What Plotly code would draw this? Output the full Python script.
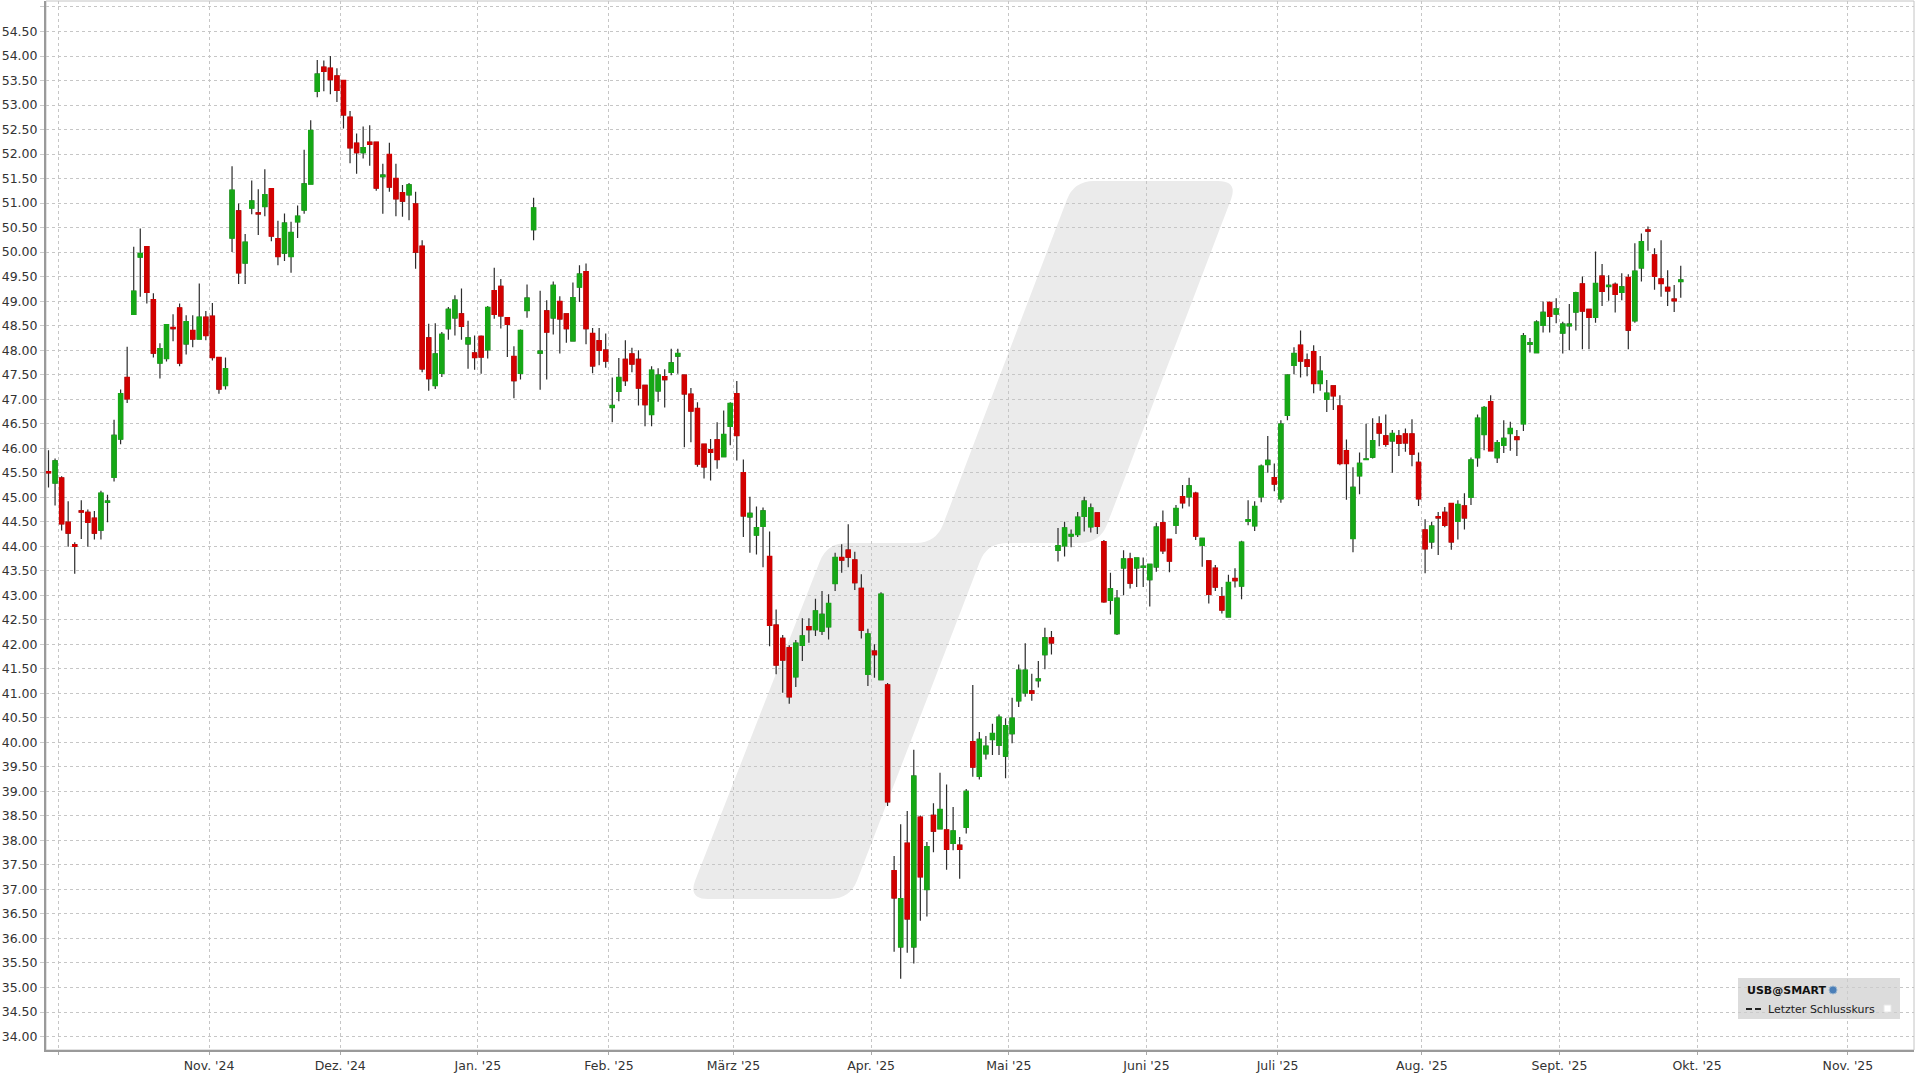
import math
import pandas as pd
import plotly.graph_objects as go

# ---------------- data ----------------
HOLIDAYS = ["2024-11-28", "2024-12-25", "2025-01-01", "2025-01-09", "2025-01-20",
            "2025-02-17", "2025-04-18", "2025-05-26", "2025-06-19", "2025-07-04",
            "2025-09-01", "2025-11-27"]
FIRST_DAY = "2024-09-27"
LAST_DAY = "2025-09-26"

OPEN = [45.52,45.29,45.39,44.49,44.03,44.72,44.69,44.57,44.33,44.90,
        45.41,46.19,47.44,48.73,49.90,50.11,49.03,47.74,47.83,48.46,
        48.86,48.13,48.40,48.23,48.67,48.69,47.85,47.28,50.29,50.84,
        49.78,50.90,50.80,50.93,51.29,50.27,49.98,49.91,50.62,50.86,
        51.39,53.28,53.77,53.75,53.59,53.50,52.75,52.22,52.03,52.24,
        52.24,51.54,51.99,51.50,51.21,51.17,50.98,50.12,48.25,47.28,
        47.53,48.44,48.66,48.74,48.13,47.94,48.28,48.01,49.21,49.30,
        48.66,47.87,47.53,48.81,50.46,47.94,48.80,48.66,48.99,48.74,
        48.19,49.29,49.60,48.34,48.19,48.00,46.83,47.16,47.81,47.92,
        47.81,47.28,46.69,47.17,47.46,47.55,47.88,47.49,47.10,46.81,
        46.08,45.97,46.17,45.83,46.45,47.11,45.50,44.60,44.23,44.41,
        43.79,42.39,42.12,41.93,41.34,41.98,42.36,42.30,42.27,42.36,
        43.24,43.77,43.92,43.72,43.14,41.39,41.86,41.28,41.17,37.38,
        35.83,37.94,35.83,38.47,37.00,38.51,38.24,38.21,37.94,37.90,
        38.27,40.01,39.31,39.77,40.06,39.94,39.72,40.18,40.85,41.01,
        41.05,41.26,41.79,42.13,43.92,44.01,44.21,44.24,44.61,44.40,
        44.68,44.09,42.90,42.22,43.56,43.74,43.56,43.57,43.32,43.58,
        44.48,44.14,44.43,45.01,45.01,45.08,44.02,43.70,43.55,42.97,
        42.56,43.34,43.19,44.51,44.42,45.01,45.67,45.40,44.97,46.67,
        47.69,48.10,47.80,47.97,47.32,47.00,47.27,46.86,45.95,44.16,
        45.44,45.77,45.82,46.50,46.25,46.15,46.25,46.29,46.29,45.71,
        44.33,44.09,44.60,44.69,44.87,44.51,44.82,45.00,45.81,46.28,
        46.95,45.81,46.06,46.30,46.23,46.50,48.12,47.95,48.51,48.97,
        48.74,48.35,48.50,48.78,49.35,48.83,48.67,49.51,49.30,49.34,
        49.18,49.48,48.60,49.68,50.45,49.94,49.45,49.28,49.04,49.40]

HIGH = [45.96,45.79,45.43,44.92,44.08,44.94,44.75,44.72,45.13,45.05,
        46.58,47.20,48.07,50.11,50.48,50.11,49.16,48.14,48.52,48.73,
        48.95,48.71,48.71,49.36,48.80,48.96,47.85,47.85,51.75,50.99,
        50.37,51.46,51.28,51.69,51.29,50.64,50.79,50.62,50.95,52.09,
        52.69,53.92,53.91,54.00,53.75,53.50,52.88,52.42,52.56,52.59,
        52.25,51.80,52.23,51.80,51.37,51.41,51.23,50.24,48.54,48.55,
        48.37,48.88,49.12,49.26,48.60,48.30,48.30,48.90,49.68,49.45,
        48.66,48.08,48.42,49.34,51.11,49.21,49.02,49.40,49.10,48.74,
        49.38,49.73,49.77,48.45,48.45,48.34,47.44,47.84,48.20,48.05,
        48.00,47.28,47.67,47.63,47.61,48.03,48.03,47.49,47.23,46.94,
        46.08,46.19,46.53,46.77,46.94,47.37,45.77,45.01,44.81,44.79,
        44.30,42.71,42.19,41.98,42.09,42.53,42.53,42.93,43.09,43.02,
        43.87,44.04,44.45,43.89,43.43,42.32,42.00,43.06,41.21,37.68,
        38.33,38.60,39.85,38.51,37.97,38.76,39.38,39.14,38.68,38.07,
        39.05,41.17,40.21,40.13,40.38,40.57,40.49,40.91,41.59,42.02,
        41.40,41.66,42.34,42.27,44.37,44.50,44.34,44.70,45.01,44.87,
        44.68,44.13,43.46,43.11,43.92,43.87,43.76,43.77,43.63,44.48,
        44.73,44.14,44.84,45.25,45.40,45.11,44.16,43.70,43.62,43.17,
        43.42,43.55,44.11,44.94,44.92,45.67,46.25,45.69,46.57,47.51,
        48.06,48.40,47.93,48.10,47.88,47.39,47.27,47.08,46.18,45.61,
        45.91,46.50,46.61,46.65,46.69,46.37,46.37,46.40,46.59,45.91,
        44.55,44.50,44.70,44.80,44.87,44.94,45.08,45.81,46.69,46.86,
        47.08,46.17,46.57,46.54,46.37,48.35,48.25,48.61,48.99,48.99,
        49.06,48.58,48.94,49.19,49.50,48.83,50.01,49.76,49.53,49.38,
        49.57,49.55,50.18,50.38,50.52,50.08,50.24,49.63,49.33,49.72]

LOW = [45.20,44.83,44.32,43.99,43.44,44.15,43.99,44.14,44.14,44.49,
       45.32,46.08,46.92,48.73,49.09,48.95,47.85,47.42,47.77,48.18,
       47.67,47.91,48.06,48.23,48.20,47.79,47.11,47.20,50.00,49.35,
       49.35,50.77,50.35,50.73,50.22,49.73,49.82,49.58,50.29,50.78,
       51.39,53.16,53.28,53.22,53.06,52.52,51.81,51.60,51.91,51.76,
       51.25,50.78,51.23,50.73,50.72,50.65,49.66,47.55,47.17,47.21,
       47.45,48.21,48.30,48.21,47.62,47.60,47.52,47.83,48.64,48.44,
       47.86,47.02,47.40,48.66,50.24,47.19,47.40,48.32,47.93,48.15,
       48.19,48.98,48.12,47.53,47.69,47.64,46.53,46.96,47.27,47.55,
       46.87,46.45,46.45,46.95,46.83,47.49,47.52,46.02,46.12,45.62,
       45.38,45.34,45.58,45.83,46.06,45.75,44.19,43.87,43.83,43.57,
       41.96,41.39,41.01,40.79,41.13,41.66,42.03,42.17,42.19,42.10,
       43.09,43.46,43.57,43.11,42.12,41.15,41.32,41.28,38.70,35.73,
       35.18,35.71,35.49,36.36,36.45,37.76,38.24,37.40,37.80,37.22,
       38.14,39.30,39.24,39.65,39.74,39.74,39.27,39.98,40.72,40.93,
       40.85,41.12,41.49,41.79,43.69,43.79,43.98,44.19,44.30,44.28,
       44.25,42.85,42.61,42.19,43.00,43.14,43.17,43.17,42.77,43.48,
       43.84,43.47,44.25,44.77,44.81,44.13,43.58,42.83,43.09,42.63,
       42.55,43.16,42.92,44.43,44.31,44.90,45.50,45.12,44.89,46.57,
       47.51,47.44,47.47,47.12,47.17,46.74,46.78,45.65,44.95,43.88,
       45.06,45.77,45.79,46.04,46.03,45.50,45.84,45.93,45.63,44.82,
       43.45,43.95,43.82,44.39,43.93,44.14,44.34,44.84,45.62,45.96,
       45.95,45.70,45.90,45.95,45.84,46.35,47.95,47.95,48.36,48.36,
       48.55,47.93,48.00,48.40,48.02,48.02,48.56,48.90,49.01,48.77,
       49.02,48.02,48.56,49.40,50.03,49.23,49.09,48.90,48.78,49.07]

CLOSE = [45.50,45.74,44.46,44.27,44.00,44.70,44.49,44.27,45.08,44.92,
         46.26,47.11,47.01,49.20,49.97,49.18,47.94,48.03,48.52,48.44,
         47.74,48.58,48.23,48.67,48.30,47.85,47.21,47.62,51.26,49.58,
         50.20,51.04,50.78,51.17,50.33,49.91,50.59,50.40,50.73,51.39,
         52.48,53.63,53.69,53.52,53.30,52.80,52.13,52.03,52.13,52.20,
         51.31,51.57,51.33,51.09,51.04,51.37,50.00,47.62,47.42,47.92,
         48.32,48.83,49.02,48.49,48.25,47.85,47.86,48.87,48.73,48.70,
         48.53,47.38,48.40,49.06,50.90,47.98,48.37,49.32,48.64,48.44,
         49.07,49.55,48.44,47.68,48.00,47.78,46.87,47.44,47.38,47.72,
         47.23,46.89,47.59,47.49,47.40,47.74,47.93,47.11,46.76,45.68,
         45.62,45.92,45.77,46.28,46.91,46.26,44.62,44.67,44.38,44.72,
         42.39,41.58,41.68,40.93,42.02,42.17,42.30,42.68,42.61,42.83,
         43.77,43.72,43.78,43.26,42.29,42.21,41.79,43.02,38.79,36.83,
         36.81,36.40,39.31,37.26,37.87,38.19,38.63,37.82,38.19,37.82,
         39.00,39.50,40.06,39.92,40.18,40.51,40.34,40.49,41.47,41.47,
         41.00,41.29,42.13,42.03,44.01,44.37,44.24,44.59,44.92,44.78,
         44.41,42.87,43.13,42.94,43.74,43.25,43.76,43.59,43.63,44.39,
         43.91,43.70,44.77,44.89,45.23,44.21,44.16,43.02,43.17,42.70,
         43.26,43.30,44.08,44.54,44.81,45.63,45.75,45.27,46.49,47.49,
         47.93,47.78,47.67,47.32,47.57,47.12,47.07,45.69,45.69,45.20,
         45.69,45.78,46.15,46.31,46.08,46.30,46.10,46.11,45.88,44.97,
         43.95,44.41,44.58,44.43,44.09,44.85,44.58,45.76,46.61,46.83,
         45.95,46.11,46.20,46.40,46.18,48.29,48.15,48.57,48.77,48.69,
         48.84,48.53,48.53,49.17,48.80,48.67,49.36,49.20,49.32,49.14,
         49.29,48.41,49.61,50.21,50.43,49.51,49.36,49.21,49.01,49.43]

# month boundaries (first trading day of each month) and their labels
MONTH_STARTS = ["2024-10-01", "2024-11-01", "2024-12-02", "2025-01-02", "2025-02-03",
                "2025-03-03", "2025-04-01", "2025-05-01", "2025-06-02", "2025-07-01",
                "2025-08-01", "2025-09-02", "2025-10-01", "2025-11-03"]
MONTH_LABELS = ["", "Nov. '24", "Dez. '24", "Jan. '25", "Feb. '25", "März '25",
                "Apr. '25", "Mai '25", "Juni '25", "Juli '25", "Aug. '25",
                "Sept. '25", "Okt. '25", "Nov. '25"]

X_RANGE = ["2024-09-27 02:50", "2025-11-17 02:00"]
Y_RANGE = [33.725, 55.122]

LEGEND_TITLE = "USB@SMART"
LEGEND_LINE = "Letzter Schlusskurs"

# ---------------- styling ----------------
GREEN = "#16a816"
RED = "#d20000"
WICK = "#2c2c2c"
GRID = "#c6c6c6"
TEXT = "#333333"
FONT = "DejaVu Sans"

W, H = 1920, 1080
ML, MR, MT, MB = 46, 6, 1, 30
PW, PH = W - ML - MR, H - MT - MB

dates = pd.bdate_range(FIRST_DAY, LAST_DAY, freq="C", holidays=HOLIDAYS) + pd.Timedelta(hours=12)

body_hi = [max(o, c) for o, c in zip(OPEN, CLOSE)]
body_lo = [min(o, c) for o, c in zip(OPEN, CLOSE)]

fig = go.Figure()
# wicks (and dark outline that gets covered by the body trace)
fig.add_trace(go.Candlestick(
    x=dates, open=OPEN, high=HIGH, low=LOW, close=CLOSE,
    increasing=dict(line=dict(color=WICK, width=1.2), fillcolor=GREEN),
    decreasing=dict(line=dict(color=WICK, width=1.2), fillcolor=RED),
    whiskerwidth=0, hoverinfo="skip", showlegend=False))
# bodies
fig.add_trace(go.Candlestick(
    x=dates, open=OPEN, high=body_hi, low=body_lo, close=CLOSE,
    increasing=dict(line=dict(color=GREEN, width=1.5), fillcolor=GREEN),
    decreasing=dict(line=dict(color=RED, width=1.5), fillcolor=RED),
    whiskerwidth=0, hoverinfo="skip", showlegend=False))


def to_paper(X, Y):
    return (X - ML) / PW, 1 - (Y - MT) / PH


def rounded_path(pts, r):
    n = len(pts)
    corners = []
    for i in range(n):
        p0, p1, p2 = pts[i - 1], pts[i], pts[(i + 1) % n]
        d1 = (p0[0] - p1[0], p0[1] - p1[1])
        d2 = (p2[0] - p1[0], p2[1] - p1[1])
        l1 = math.hypot(*d1)
        l2 = math.hypot(*d2)
        rr = min(r, l1 / 2, l2 / 2)
        a = (p1[0] + d1[0] / l1 * rr, p1[1] + d1[1] / l1 * rr)
        b = (p1[0] + d2[0] / l2 * rr, p1[1] + d2[1] / l2 * rr)
        corners.append((a, p1, b))

    def f(p):
        x, y = to_paper(*p)
        return f"{x:.5f},{y:.5f}"

    s = f"M {f(corners[0][0])} Q {f(corners[0][1])} {f(corners[0][2])}"
    for a, p, b in corners[1:]:
        s += f" L {f(a)} Q {f(p)} {f(b)}"
    s += " Z"
    return s


# watermark logo
logo = [(688, 899), (827, 543), (936, 543), (1074, 181), (1238, 181),
        (1100, 543), (987, 543), (850, 899)]
shapes = [
    dict(type="path", xref="paper", yref="paper", path=rounded_path(logo, 20),
         fillcolor="#ebebeb", line=dict(width=0), layer="below"),
    dict(type="rect", xref="paper", yref="paper", x0=0, x1=1, y0=0, y1=1,
         line=dict(color="#c4c4c4", width=1), fillcolor="rgba(0,0,0,0)", layer="below"),
]

# legend box
bx0, by0 = to_paper(1738, 978)
bx1, by1 = to_paper(1900, 1019)
shapes.append(dict(type="rect", xref="paper", yref="paper", x0=bx0, x1=bx1, y0=by1, y1=by0,
                   fillcolor="rgba(205,205,205,0.7)", line=dict(width=0), layer="above"))
gx0, gy0 = to_paper(1829, 986)
gx1, gy1 = to_paper(1837, 994)
shapes.append(dict(type="circle", xref="paper", yref="paper", x0=gx0, x1=gx1, y0=gy1, y1=gy0,
                   fillcolor="#4b7fb8", line=dict(color="#9fb8d0", width=1), layer="above"))
lx0, ly = to_paper(1746, 1009)
lx1, _ = to_paper(1763, 1009)
shapes.append(dict(type="line", xref="paper", yref="paper", x0=lx0, x1=lx1, y0=ly, y1=ly,
                   line=dict(color="#222", width=2, dash="6px,3px"), layer="above"))
sx0, sy0 = to_paper(1884, 1005)
sx1, sy1 = to_paper(1891, 1012)
shapes.append(dict(type="rect", xref="paper", yref="paper", x0=sx0, x1=sx1, y0=sy1, y1=sy0,
                   fillcolor="white", line=dict(color="#e8e8e8", width=1), layer="above"))

tx, ty = to_paper(1745, 990)
tx2, ty2 = to_paper(1766, 1009)
annotations = [
    dict(xref="paper", yref="paper", x=tx, y=ty, xanchor="left", yanchor="middle",
         text=f"<b>{LEGEND_TITLE}</b>", showarrow=False,
         font=dict(family=FONT, size=11, color="#111")),
    dict(xref="paper", yref="paper", x=tx2, y=ty2, xanchor="left", yanchor="middle",
         text=LEGEND_LINE, showarrow=False,
         font=dict(family=FONT, size=11, color="#222")),
]

fig.update_layout(
    width=W, height=H,
    margin=dict(l=ML, r=MR, t=MT, b=MB, pad=0, autoexpand=False),
    paper_bgcolor="white", plot_bgcolor="white",
    showlegend=False, boxgap=0.14,
    font=dict(family=FONT, size=12.5, color=TEXT),
    shapes=shapes, annotations=annotations,
    xaxis=dict(
        type="date", range=X_RANGE,
        rangebreaks=[dict(bounds=["sat", "mon"]), dict(values=HOLIDAYS)],
        tickmode="array", tickvals=MONTH_STARTS, ticktext=MONTH_LABELS,
        showgrid=True, gridcolor=GRID, gridwidth=1, griddash="dot",
        ticks="outside", ticklen=3, tickcolor="#aaaaaa",
        showline=True, linecolor="#9a9a9a", linewidth=2,
        zeroline=False, automargin=False, rangeslider=dict(visible=False),
        tickfont=dict(family=FONT, size=12.5, color=TEXT),
    ),
    yaxis=dict(
        range=Y_RANGE, tick0=34, dtick=0.5, tickformat=".2f",
        showgrid=True, gridcolor=GRID, gridwidth=1, griddash="dot",
        ticks="outside", ticklen=4, tickcolor="#cccccc",
        showline=True, linecolor="#9a9a9a", linewidth=2,
        zeroline=False, automargin=False,
        tickfont=dict(family=FONT, size=12.5, color=TEXT),
    ),
)

fig.write_html("out.html", config={"displayModeBar": False},
               post_script="document.body.style.margin='0';document.body.style.overflow='hidden';")
